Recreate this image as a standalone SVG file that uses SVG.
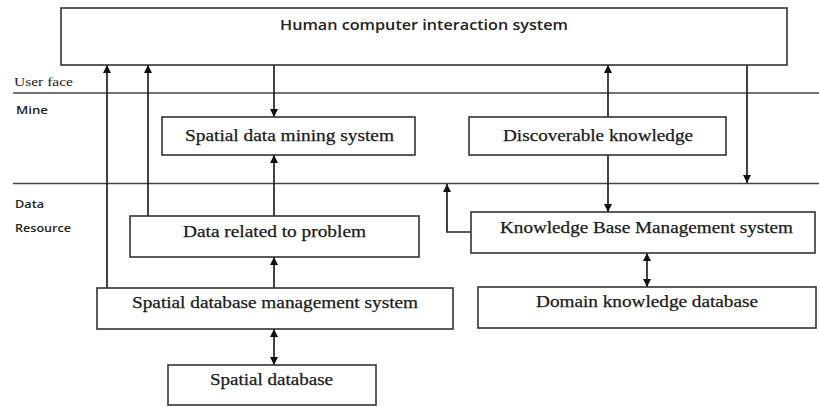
<svg xmlns="http://www.w3.org/2000/svg" width="819" height="407" viewBox="0 0 819 407">
<style>
.box{fill:#fff;stroke:#333;stroke-width:1.6}
.ln{fill:none;stroke:#222;stroke-width:1.7}
.sep{stroke:#444;stroke-width:1.4}
.t{font-family:"Liberation Serif","Times New Roman",serif;font-size:16px;fill:#1a1a1a;text-anchor:middle;stroke:#1a1a1a;stroke-width:0.25}
.s{font-family:"Open Sans","Liberation Sans",sans-serif;font-size:14.5px;font-weight:600;fill:#222}
.l{font-family:"Open Sans","Liberation Sans",sans-serif;font-size:11px;font-weight:600;fill:#222}
.ls{font-family:"Liberation Serif","Times New Roman",serif;font-size:12.5px;fill:#222}
</style>
<defs>
<marker id="ah" viewBox="0 0 10 10" refX="10" refY="5" markerWidth="9" markerHeight="8" markerUnits="userSpaceOnUse" orient="auto-start-reverse">
<path d="M0,0 L10,5 L0,10 z" fill="#111"/>
</marker>
</defs>
<g id="layers">
<line class="sep" x1="13" y1="93" x2="819" y2="93"/>
<line class="sep" x1="13" y1="183.5" x2="819" y2="183.5"/>
<text class="ls" x="14" y="86" textLength="59" lengthAdjust="spacingAndGlyphs">User face</text>
<text class="l" x="16" y="114" textLength="32" lengthAdjust="spacingAndGlyphs">Mine</text>
<text class="l" x="15" y="208" textLength="29" lengthAdjust="spacingAndGlyphs">Data</text>
<text class="l" x="15" y="232" textLength="56" lengthAdjust="spacingAndGlyphs">Resource</text>
</g>
<g id="connectors">
<path class="ln" d="M107,288 V65" marker-end="url(#ah)"/>
<path class="ln" d="M148,216 V65" marker-end="url(#ah)"/>
<path class="ln" d="M274,65 V117" marker-end="url(#ah)"/>
<path class="ln" d="M274,216 V155" marker-end="url(#ah)"/>
<path class="ln" d="M274,288 V257" marker-end="url(#ah)"/>
<path class="ln" d="M274,329 V365" marker-start="url(#ah)" marker-end="url(#ah)"/>
<path class="ln" d="M608,117 V65" marker-end="url(#ah)"/>
<path class="ln" d="M608,155 V212" marker-end="url(#ah)"/>
<path class="ln" d="M747,65 V183" marker-end="url(#ah)"/>
<path class="ln" d="M471,232 H447 V184" marker-end="url(#ah)"/>
<path class="ln" d="M647,253 V287" marker-start="url(#ah)" marker-end="url(#ah)"/>
</g>
<g id="hci">
<rect class="box" x="61" y="8" width="726" height="57"/>
<text class="s" x="280" y="30" textLength="288" lengthAdjust="spacingAndGlyphs">Human computer interaction system</text>
</g>
<g id="sdms">
<rect class="box" x="162" y="117" width="253" height="38"/>
<text class="t" x="289.5" y="141" textLength="209" lengthAdjust="spacingAndGlyphs">Spatial data mining system</text>
</g>
<g id="dk">
<rect class="box" x="469" y="117" width="257" height="38"/>
<text class="t" x="598" y="141" textLength="190" lengthAdjust="spacingAndGlyphs">Discoverable knowledge</text>
</g>
<g id="drp">
<rect class="box" x="130" y="216" width="289" height="41"/>
<text class="t" x="274.5" y="237" textLength="183" lengthAdjust="spacingAndGlyphs">Data related to problem</text>
</g>
<g id="kbms">
<rect class="box" x="471" y="212" width="344" height="41"/>
<text class="t" x="646.5" y="233" textLength="293" lengthAdjust="spacingAndGlyphs">Knowledge Base Management system</text>
</g>
<g id="sdbms">
<rect class="box" x="97" y="288" width="356" height="41"/>
<text class="t" x="275" y="308" textLength="286" lengthAdjust="spacingAndGlyphs">Spatial database management system</text>
</g>
<g id="dkd">
<rect class="box" x="478" y="287" width="338" height="41"/>
<text class="t" x="647" y="307" textLength="222" lengthAdjust="spacingAndGlyphs">Domain knowledge database</text>
</g>
<g id="sdb">
<rect class="box" x="168" y="365" width="208" height="40"/>
<text class="t" x="271.5" y="385" textLength="123" lengthAdjust="spacingAndGlyphs">Spatial database</text>
</g>
</svg>
